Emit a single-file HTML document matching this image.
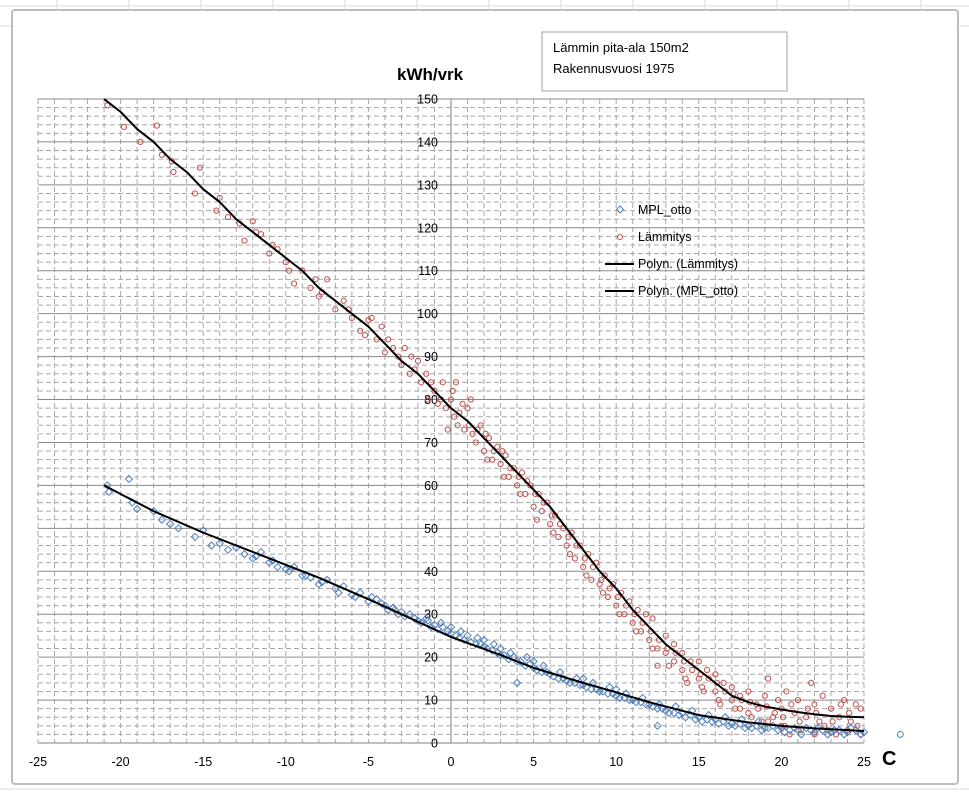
<!DOCTYPE html>
<html><head><meta charset="utf-8"><style>
html,body{margin:0;padding:0;background:#fff;}
svg{display:block;font-family:"Liberation Sans",Calibri,sans-serif;}
</style></head><body>
<svg id="chart" width="969" height="796" viewBox="0 0 969 796" xmlns="http://www.w3.org/2000/svg">
<g stroke="#dadcdd" stroke-width="1">
<line x1="0" y1="6" x2="969" y2="6"/><line x1="0" y1="26" x2="969" y2="26"/><line x1="0" y1="789" x2="969" y2="789"/>
<line x1="57" y1="0" x2="57" y2="10"/><line x1="129" y1="0" x2="129" y2="10"/><line x1="201" y1="0" x2="201" y2="10"/><line x1="273" y1="0" x2="273" y2="10"/><line x1="345" y1="0" x2="345" y2="10"/><line x1="417" y1="0" x2="417" y2="10"/><line x1="489" y1="0" x2="489" y2="10"/><line x1="561" y1="0" x2="561" y2="10"/><line x1="633" y1="0" x2="633" y2="10"/><line x1="705" y1="0" x2="705" y2="10"/><line x1="777" y1="0" x2="777" y2="10"/><line x1="849" y1="0" x2="849" y2="10"/><line x1="921" y1="0" x2="921" y2="10"/>
</g>
<rect x="12" y="10" width="946" height="774" rx="3" fill="#fff" stroke="#bdbdbd" stroke-width="2"/>
<g id="grid"></g>
<g id="axes"></g>
<g id="marks"></g>
<text x="397" y="80" font-size="17" font-weight="bold" fill="#000">kWh/vrk</text>
<text x="882" y="765" font-size="20" font-weight="bold" fill="#000">C</text>
<g>
<rect x="542" y="32" width="245" height="59" fill="#fff" stroke="#a0a0a0" stroke-width="1"/>
<text x="553" y="52" font-size="13" fill="#000">Lämmin pita-ala 150m2</text>
<text x="553" y="73" font-size="13" fill="#000">Rakennusvuosi 1975</text>
</g>
<g font-size="12.5" fill="#000">
<g><path d="M620,206 l3.5,3.5 l-3.5,3.5 l-3.5,-3.5z" fill="none" stroke="#4f81bd"/><text x="638" y="214">MPL_otto</text></g>
<g><circle cx="620" cy="237" r="2.5" fill="none" stroke="#c0504d"/><text x="638" y="241">Lämmitys</text></g>
<g><line x1="605" y1="264" x2="634" y2="264" stroke="#000" stroke-width="2"/><text x="638" y="268">Polyn. (Lämmitys)</text></g>
<g><line x1="605" y1="291" x2="634" y2="291" stroke="#000" stroke-width="2"/><text x="638" y="295">Polyn. (MPL_otto)</text></g>
</g>
<script>
const xTicks=[-25,-20,-15,-10,-5,0,5,10,15,20,25];
const yTicks=[0,10,20,30,40,50,60,70,80,90,100,110,120,130,140,150];
const redTrendX=[-21,-20,-19,-18,-17,-16,-15,-14,-13,-12,-11,-10,-9,-8,-7,-6,-5,-4,-3,-2,-1,0,1,2,3,4,5,6,7,8,9,10,11,12,13,14,15,16,17,18,19,20,21,22,23,24,25];
const redTrendY=[150,147,143,140,136,133,129,126,122,119,116,113,110,106,103,100,97,93,89,86,82,78,75,71,67,63,59,55,50,45,40,36,31,27,23,20,17,14,11,9.5,8.5,7.8,7.2,6.7,6.3,6.1,6.0];
const blueTrendX=[-21,-20,-18,-15,-12,-10,-8,-5,-3,0,3,5,8,10,12,15,18,20,22,25];
const blueTrendY=[60,58,54,49,44.5,41.5,38.5,33.5,30,24.7,20.5,17.5,14,11.8,9.5,6.5,4.8,4,3.4,2.8];
const redX=[-20.8,-19.8,-18.8,-17.8,-17.5,-16.9,-16.8,-15.5,-15.2,-14.2,-14,-13.5,-12.8,-12.5,-12,-11.5,-11,-10.5,-10,-9.5,-9,-8.5,-8,-7.5,-7,-6.5,-6,-5.5,-5,-4.5,-4.2,-4,-3.5,-3,-2.8,-2.5,-2,-1.8,-1.5,-1,-0.8,-0.5,-0.3,0,0.2,0.5,0.8,1,1.3,1.5,1.8,2,2.3,2.5,2.8,3,3.3,3.5,3.8,4,4.3,4.5,4.8,5,5.3,5.5,5.8,6,6.3,6.5,6.8,7,7.3,7.5,7.8,8,8.3,8.5,8.8,9,9.3,9.5,9.8,10,10.3,10.5,10.8,11,11.3,11.5,11.8,12,12.2,12.5,12.5,13,13,13.5,13.5,14,14,14.3,14.5,15,15,15.3,15.5,16,16,16.3,16.5,17,17,17.5,17.5,18,18,18.5,18.8,19,19.2,19.5,19.8,20,20,20.3,20.5,20.8,21,21.2,21.5,21.8,22,22,22.3,22.5,22.8,23,23.3,23.5,23.8,24,24.2,24.5,24.8,24.8];
const redY=[148.5,143.5,140,143.8,137,135.5,133,128,134,124,127,122.5,121,117,121.5,118.5,114,115,112,107,110,106,104,108,101,103,99,96,98.5,94,97,91,92,88,92,86,89,84,86,82,79,84,78,80,76,77,73,78,72,70,74,68,71,66,69,65,67,62,64,60,63,58,60,55,58,54,56,51,53,48,50,46,49,43,46,41,44,38,42,37,39,34,37,32,35,30,33,28,31,26,30,24,29,18,22,21,25,19,23,17,21,14,19,15,19,12,17,12,16,9,14,10,13,8,11,7,12,9,5,11,15,6,10,4,8,12,2,7,10,3,6,14,2,9,5,11,3,8,2,6,10,3,5,9,2,8];
const redExtraX=[-3.8,-3.2,-2.2,-1.2,-0.6,0.1,0.4,0.7,1.1,1.6,2.1,2.6,3.1,3.6,4.1,4.6,5.1,5.6,6.1,6.6,7.1,7.6,8.1,8.6,9.1,9.6,10.1,10.6,11.1,11.6,12.1,12.6,13.1,13.6,14.1,14.6,15.1,15.6,16.1,16.6,17.1,17.6,18.1,18.6,19.1,19.6,20.1,20.6,21.1,21.6,22.1,22.6,23.1,23.6,24.1,24.6,-0.2,0.3,1.2,2.2,3.2,4.2,5.2,6.2,7.2,8.2,9.2,10.2,11.2,12.2,13.2,14.2,15.2,16.2,17.2,18.2,19.2,20.2,-8.2,-6.2,-5.2,-4.8,-2.4,-1.4,-7.8,-9.8,-10.8,-11.8];
const redExtraY=[94,90,87,84,80,82,74,79,74,73,72,68,68,64,62,61,58,56,53,51,48,46,43,41,38,36,34,32,30,28,26,24,22,21,19,17,16,15,14,12,11.5,10,9.5,8,8.5,7,6,9,5,8,7,4,5,9,7,4,73,84,80,66,62,58,52,49,44,39,35,30,26,22,18,15,13,10,8,6,5,4,108,101,95,99,90,80,105,110,116,119];
const blueX=[-20.8,-20.7,-19.5,-19.3,-19,-18,-17.5,-17,-16.5,-15.5,-15,-14.5,-14,-13.5,-13,-12.5,-12,-11.5,-11,-10.5,-10,-9.5,-9,-8.5,-8,-7.5,-7,-6.5,-6,-5.5,-5,-4.5,-4,-3.5,-3,-2.5,-2,-1.5,-1,-0.5,0,0,0.5,1,1.5,2,2,2.5,3,3,3.5,4,4,4.5,5,5,5.5,6,6.5,7,7.5,8,8,8.5,9,9.5,10,10,10.5,11,11.5,12,12.5,12.5,13,13.5,14,14.5,15,15.5,16,16.5,17,17.5,18,18.5,19,19.5,20,20.5,21,21.5,22,22.5,23,23.5,24,24.5,25];
const blueY=[60,58.5,61.5,56,54.5,54,52,51,50,48,49.5,46,46.5,45,45.5,44,43,44.5,42,41,40.5,41,39,38.5,37,38,36,36.5,34.5,35,33,33.5,32,31.5,30.5,30,28.5,29,27.5,27,25.5,27,24.5,25,23,22.5,24,21.5,20.5,22,19.5,19,14,18,17.5,19,16.5,16,15,14.5,14,13.5,15,12.5,12,11.5,11,12.5,10.5,10,9.5,9,8,4,7.5,7,7,6.5,6,5.5,5.5,5,4.5,4.5,4,4,3.5,4,3.5,3,3,3.5,2.5,3,2.5,3,2.5,3,2.5];
const blueExtraX=[-4.8,-4.2,-3.8,-3.2,-2.8,-2.2,-1.8,-1.2,-0.8,-0.2,0.3,0.8,1.2,1.8,2.2,2.8,3.2,3.8,4.2,4.8,5.2,5.8,6.2,6.8,7.2,7.8,8.2,8.8,9.2,9.8,10.2,10.8,11.2,11.8,12.2,12.8,13.2,13.8,14.2,14.8,15.2,15.8,16.2,16.8,17.2,17.8,18.2,18.8,19.2,19.8,20.2,20.8,21.2,21.8,22.2,22.8,23.2,23.8,24.2,24.8,-0.6,0.6,1.6,2.6,3.6,4.6,5.6,6.6,7.6,8.6,9.6,10.6,11.6,12.6,13.6,14.6,15.6,16.6,17.6,18.6,-6.8,-7.8,-8.8,-9.8,-10.8,-11.8,-5.8,-3.4,-1.4];
const blueExtraY=[34,32.5,31,30,29.5,29,28,27,26.5,26,25,24,23.5,23,22,21,20.5,20,19,18.5,17,16.5,15.5,15,14,13.5,13,12.5,12,11.5,10.5,10,9.5,9,8.5,8,7,6.5,6,5.5,5,5,4.5,4,4,3.5,3.5,3,3.5,3,2.5,3.5,2,3,3.5,2,3,2,3.5,2,28,26,24.5,23,21,20,18,16.5,15,14,13,11.5,10.5,9,8.5,7.5,6.5,6,5.5,5,35,37.5,39,40,42.5,43.5,34,31,28.5];
const outlierX=[27.2], outlierY=[2];

const NS="http://www.w3.org/2000/svg";
const X0=38,X1=864,Y0=743,Y1=99;
const sx=v=>X0+(v+25)/50*(X1-X0);
const sy=v=>Y0-v/150*(Y0-Y1);
function mk(tag,attrs,parent){const e=document.createElementNS(NS,tag);for(const k in attrs)e.setAttribute(k,attrs[k]);parent.appendChild(e);return e;}
const grid=document.getElementById('grid'),axes=document.getElementById('axes'),marks=document.getElementById('marks');
for(let v=-25;v<=25;v++){
 const l=mk('line',{x1:sx(v),x2:sx(v),y1:Y1,y2:Y0,stroke:'#a8a8a8','stroke-width':1,'stroke-dasharray':'5,3'},grid);
 
 
}
for(let v=0;v<=150;v+=2){
 const major=v%10===0;
 const l=mk('line',{x1:X0,x2:X1,y1:sy(v),y2:sy(v),stroke:major?'#8a8a8a':'#a8a8a8','stroke-width':1},grid);
 if(!major)l.setAttribute('stroke-dasharray','5,3');
 
 
}
const ya=mk('line',{x1:sx(0),x2:sx(0),y1:Y1,y2:Y0,stroke:'#808080','stroke-width':1},axes);


const xa=mk('line',{x1:X0,x2:X1,y1:Y0,y2:Y0,stroke:'#808080','stroke-width':1},axes);


xTicks.forEach(v=>{
 const t=mk('text',{x:sx(v),y:Y0+23,'text-anchor':'middle','font-size':12.5,fill:'#000'},axes);
 t.textContent=v;
 
 
});
yTicks.forEach(v=>{
 const t=mk('text',{x:sx(0)-13,y:sy(v)+4.5,'text-anchor':'end','font-size':12.5,fill:'#000'},axes);
 t.textContent=v;
 
 
});
const allRedX=redX.concat(redExtraX), allRedY=redY.concat(redExtraY);
const allBlueX=blueX.concat(blueExtraX), allBlueY=blueY.concat(blueExtraY);
allRedX.forEach((x,i)=>{
 const c=mk('circle',{cx:sx(x),cy:sy(allRedY[i]),r:2.6,fill:'none',stroke:'#c0504d','stroke-width':1},marks);
 
 
});
allBlueX.forEach((x,i)=>{
 const px=sx(x),py=sy(allBlueY[i]);
 const d=mk('path',{d:`M${px},${py-3.5}l3.5,3.5l-3.5,3.5l-3.5,-3.5z`,fill:'none',stroke:'#4f81bd','stroke-width':1},marks);
 
 
});
outlierX.forEach((x,i)=>{
 const c=mk('circle',{cx:sx(x),cy:sy(outlierY[i]),r:3,fill:'none',stroke:'#4f81bd','stroke-width':1},marks);
 
 
});
function line(xs,ys,name){
 const p=mk('polyline',{points:xs.map((x,i)=>sx(x)+','+sy(ys[i])).join(' '),fill:'none',stroke:'#000','stroke-width':2,'stroke-linejoin':'round'},marks);
 
 
}
line(redTrendX,redTrendY,'polyn-lammitys-trendline');
line(blueTrendX,blueTrendY,'polyn-mpl-otto-trendline');
</script>
</svg>
</body></html>
